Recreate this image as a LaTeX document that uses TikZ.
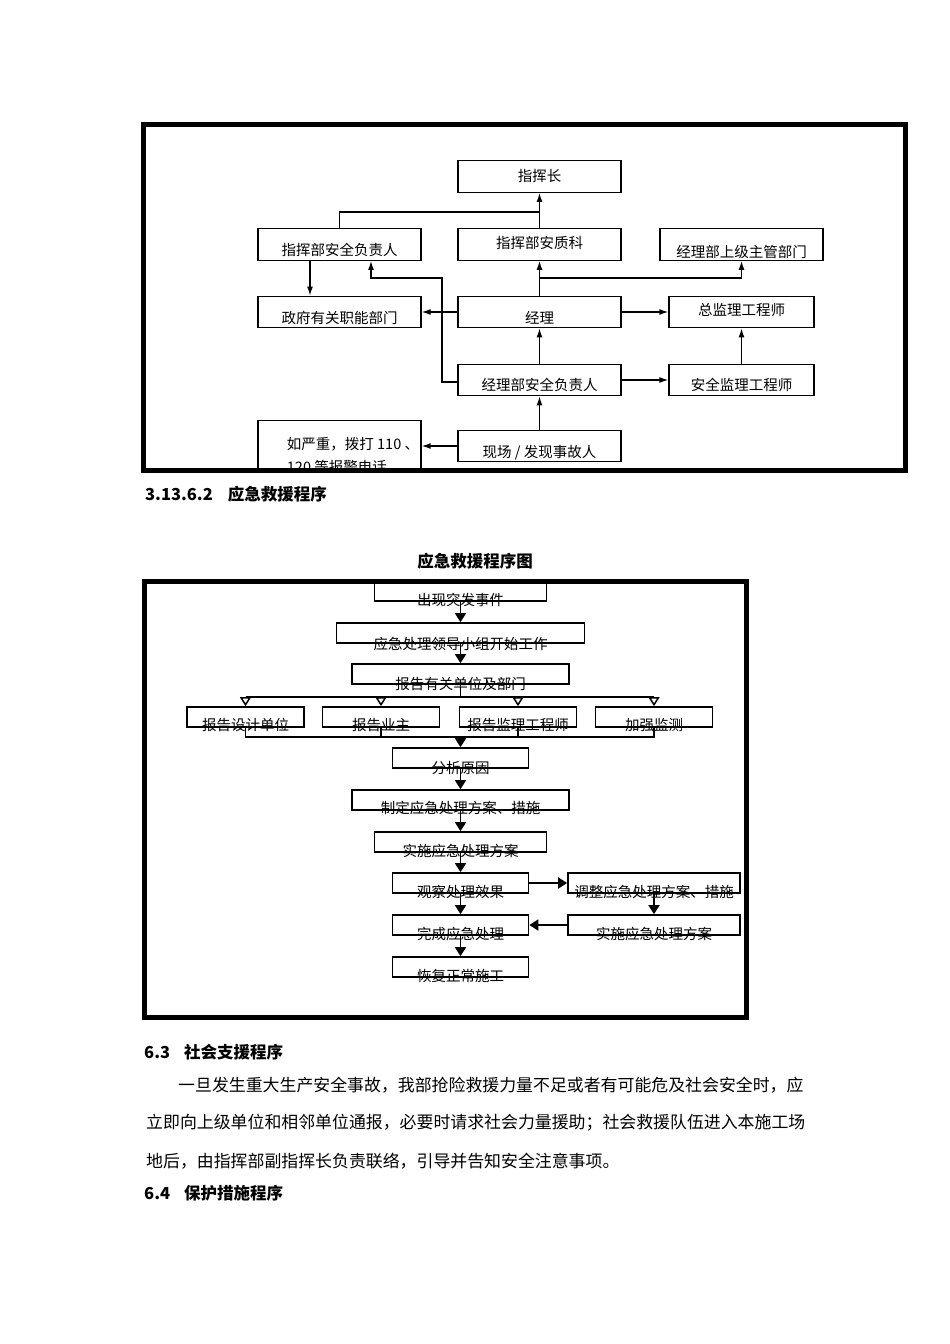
\documentclass[tikz,border=0pt]{standalone}
\usepackage{fontspec}
\newfontfamily\cjk{Noto Sans CJK SC}
\usetikzlibrary{arrows.meta}
\tikzstyle{frame} = [draw, line width=5pt]
\tikzstyle{block} = [rectangle, draw, line width=1.3pt, minimum width=163pt, minimum height=31.5pt, inner sep=0pt, font=\cjk\fontsize{14.5}{17}\selectfont]
\tikzstyle{flow} = [rectangle, draw, line width=1.7pt, minimum height=20pt, inner sep=0pt, font=\cjk\fontsize{14.5}{17}\selectfont]
\tikzstyle{heading} = [anchor=west, inner sep=0pt, font=\cjk\bfseries\fontsize{16.5}{20}\selectfont]
\tikzstyle{para} = [anchor=west, inner sep=0pt, font=\cjk\fontsize{16.9}{20}\selectfont]
\tikzset{edge/.style = {
    line width=1.3pt,
    -{Latex[length=9pt,width=6pt]},
  },
  flowedge/.style = {
    line width=1.8pt,
    -{Triangle[length=9pt,width=11pt]},
  },
  split/.style = {
    line width=1.5pt,
    -{Triangle[open,length=9pt,width=11pt]},
  }
}
% text sits lower than the box centre
\newcommand{\dn}[2]{\smash{\raisebox{\dimexpr-#1pt-0.38em\relax}{#2}}}

\begin{document}
\begin{tikzpicture}[x=1pt,y=-1pt]
  \useasboundingbox (0,0) rectangle (950,1344);

  % first chart
  \begin{scope}
    \clip (143.5,124.5) rectangle (905.5,470);
    % vertices
    \node[block] (chief) at (539.5,176.5) {\dn{-1}{指挥长}};
    \node[block] (hqsafe) at (339.5,244.5) {\dn{5.5}{指挥部安全负责人}};
    \node[block] (hqqual) at (539.5,244.5) {\dn{-1.5}{指挥部安质科}};
    \node[block] (upper) at (741.5,244.5) {\dn{7}{经理部上级主管部门}};
    \node[block] (gov) at (339.5,312) {\dn{6}{政府有关职能部门}};
    \node[block] (mgr) at (539.5,312) {\dn{6}{经理}};
    \node[block, minimum width=145pt] (chiefsup) at (741.5,312) {\dn{-2}{总监理工程师}};
    \node[block] (mgrsafe) at (539.5,380) {\dn{5}{经理部安全负责人}};
    \node[block, minimum width=145pt] (safesup) at (741.5,380) {\dn{5}{安全监理工程师}};
    \node[block, anchor=north, minimum height=70pt, align=left, font=\cjk\fontsize{14.5}{23}\selectfont] (call) at (339.5,420) {\hspace*{27pt}如严重，拨打 110 、\\\hspace*{27pt}120 等报警电话};
    \node[block] (site) at (539.5,446) {\dn{6}{现场 / 发现事故人}};
    \coordinate (jtop) at (539.5,212);
    \coordinate (jmgr) at (539.5,278);
    \coordinate (jleft) at (442,278);

    %edges
    \draw[edge] (hqqual) to (chief);
    \draw[line width=1.3pt] (hqsafe.north) |- (jtop);
    \draw[edge] (mgr) to (hqqual);
    \draw[edge] (jmgr) -| (upper.south);
    \draw[edge] ([xshift=-29.5pt]hqsafe.south) to ([xshift=-29.5pt]gov.north);
    \draw[edge] (mgr) to (gov);
    \draw[edge] (mgr) to (chiefsup);
    \draw[edge] (mgrsafe) to (mgr);
    \draw[edge] (mgrsafe) to (safesup);
    \draw[edge] (safesup) to (chiefsup);
    \draw[edge] (site) to (mgrsafe);
    \draw[edge] (site.west) to (site.west -| call.east);
    \draw[edge] ([yshift=-2pt]mgrsafe.west) -| (jleft) -| ([xshift=31.5pt]hqsafe.south);
  \end{scope}
  \draw[frame] (143.5,124.5) rectangle (905.5,470);

  \node[heading] (sec) at (145,494.5) {3.13.6.2\hspace{15pt}应急救援程序};
  \node[heading, anchor=center] (title) at (475,561.5) {应急救援程序图};

  % second chart
  % vertices
  \node[flow, minimum width=172pt, minimum height=19pt] (p1) at (460.5,591.5) {\dn{8.5}{出现突发事件}};
  \node[flow, minimum width=248pt] (p2) at (460.5,633) {\dn{10.5}{应急处理领导小组开始工作}};
  \node[flow, minimum width=217pt] (p3) at (460.5,674) {\dn{9.5}{报告有关单位及部门}};
  \node[flow, minimum width=117pt] (q1) at (245.5,717) {\dn{8}{报告设计单位}};
  \node[flow, minimum width=117pt] (q2) at (381,717) {\dn{8}{报告业主}};
  \node[flow, minimum width=117pt] (q3) at (518,717) {\dn{8}{报告监理工程师}};
  \node[flow, minimum width=117pt] (q4) at (654,717) {\dn{8}{加强监测}};
  \node[flow, minimum width=136pt] (p4) at (460.5,758) {\dn{10}{分析原因}};
  \node[flow, minimum width=217pt] (p5) at (460.5,800) {\dn{8}{制定应急处理方案、措施}};
  \node[flow, minimum width=172pt] (p6) at (460.5,842) {\dn{9}{实施应急处理方案}};
  \node[flow, minimum width=136pt] (p7) at (460.5,883) {\dn{9}{观察处理效果}};
  \node[flow, minimum width=172pt] (r1) at (654,883) {\dn{9}{调整应急处理方案、措施}};
  \node[flow, minimum width=172pt] (r2) at (654,925) {\dn{9}{实施应急处理方案}};
  \node[flow, minimum width=136pt] (p8) at (460.5,925) {\dn{9}{完成应急处理}};
  \node[flow, minimum width=136pt] (p9) at (460.5,967) {\dn{9}{恢复正常施工}};
  \coordinate (br) at (460.5,697);
  \coordinate (mg) at (460.5,737);

  %edges
  \draw[flowedge] (p1) to (p2);
  \draw[flowedge] (p2) to (p3);
  \draw[line width=1.5pt] (p3) to (br);
  \draw[line width=1.5pt] (q1.north |- br) to (q4.north |- br);
  \draw[split] (q1.north |- br) to (q1.north);
  \draw[split] (q2.north |- br) to (q2.north);
  \draw[split] (q3.north |- br) to (q3.north);
  \draw[split] (q4.north |- br) to (q4.north);
  \draw[line width=1.5pt] (q1.south) -- (q1.south |- mg) -- (q4.south |- mg) -- (q4.south);
  \draw[line width=1.5pt] (q2.south) to (q2.south |- mg);
  \draw[line width=1.5pt] (q3.south) to (q3.south |- mg);
  \draw[flowedge] (mg) to (p4);
  \draw[flowedge] (p4) to (p5);
  \draw[flowedge] (p5) to (p6);
  \draw[flowedge] (p6) to (p7);
  \draw[flowedge] (p7) to (r1);
  \draw[flowedge] (r1) to (r2);
  \draw[flowedge] (r2) to (p8);
  \draw[flowedge] (p7) to (p8);
  \draw[flowedge] (p8) to (p9);
  \draw[frame] (144,581) rectangle (746,1017);

  % text below
  \node[heading] (sec63) at (144,1052) {6.3\hspace{14pt}社会支援程序};
  \node[para] (line1) at (178,1085) {一旦发生重大生产安全事故，我部抢险救援力量不足或者有可能危及社会安全时，应};
  \node[para] (line2) at (146,1123) {立即向上级单位和相邻单位通报，必要时请求社会力量援助；社会救援队伍进入本施工场};
  \node[para] (line3) at (146,1161) {地后，由指挥部副指挥长负责联络，引导并告知安全注意事项。};
  \node[heading] (sec64) at (144,1193) {6.4\hspace{14pt}保护措施程序};
\end{tikzpicture}
\end{document}
